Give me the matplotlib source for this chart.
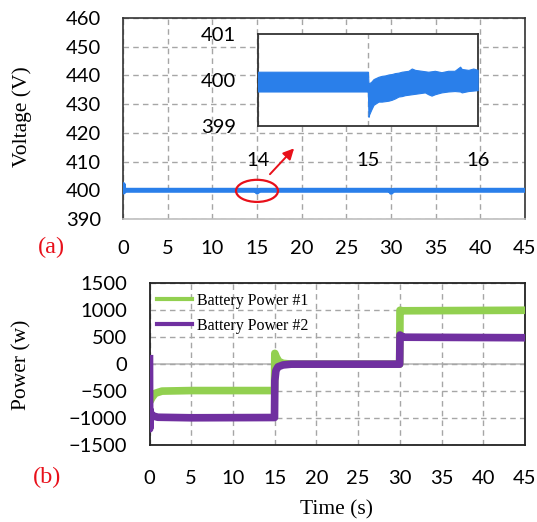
import matplotlib
matplotlib.use("Agg")
import matplotlib.pyplot as plt
from matplotlib.patches import Ellipse

# ---------------- data ----------------
volt_t = [0, 0.03, 0.07, 0.12, 0.3, 14.97, 15.02, 15.1, 15.3, 29.97, 30.02, 30.1, 30.3, 45]
volt_v = [400, 402.0, 399.4, 400.2, 400, 400, 399.4, 399.7, 400, 400, 399.3, 399.7, 400, 400]

zoom_t = [14.0, 14.998, 15.0, 15.006, 15.012, 15.03, 15.052, 15.097, 15.127, 15.158, 15.188,
          15.218, 15.248, 15.279, 15.309, 15.339, 15.37, 15.4, 15.43, 15.46, 15.49, 15.52,
          15.55, 15.58, 15.61, 15.67, 15.73, 15.79, 15.84, 15.855, 15.915, 15.96, 16.0]
zoom_hi = [400.18, 400.18, 400.18, 399.93, 399.93, 399.96, 400.02, 400.07, 400.09, 400.10, 400.12,
           400.13, 400.15, 400.16, 400.18, 400.19, 400.20, 400.25, 400.22, 400.21, 400.20, 400.19,
           400.18, 400.19, 400.20, 400.17, 400.20, 400.20, 400.29, 400.24, 400.22, 400.25, 400.22]
zoom_lo = [399.75, 399.75, 399.75, 399.20, 399.25, 399.35, 399.46, 399.53, 399.53, 399.54, 399.55,
           399.57, 399.60, 399.64, 399.65, 399.67, 399.68, 399.69, 399.70, 399.71, 399.72, 399.73,
           399.69, 399.66, 399.69, 399.73, 399.75, 399.76, 399.75, 399.73, 399.76, 399.77, 399.78]

p1_t = [0, 0.1, 0.3, 0.7, 1.5, 5, 14.98, 15.02, 15.2, 15.5, 16.0, 17.0, 29.98, 30.02, 30.3, 45]
p1_v = [-700, -680, -620, -540, -500, -490, -490, 200, 130, 50, 15, 0, 0, 1000, 990, 1000]
p2_t = [0, 0.02, 0.05, 0.15, 0.4, 1.0, 5, 14.98, 15.02, 15.15, 15.4, 16.0, 17.0, 29.98, 30.02, 30.4, 45]
p2_v = [100, -1200, -850, -920, -960, -985, -995, -990, -300, -120, -50, -15, 0, 0, 540, 500, 490]

volt_ticks = [390, 400, 410, 420, 430, 440, 450, 460]
zoom_yticks = [399, 400, 401]
zoom_xticks = [14, 15, 16]
time_ticks = [0, 5, 10, 15, 20, 25, 30, 35, 40, 45]
power_ticks = [-1500, -1000, -500, 0, 500, 1000, 1500]
legend_labels = ["Battery Power #1", "Battery Power #2"]

# ---------------- styling ----------------
W, H = 537, 522
SANS = "Lato"
SERIF = "Liberation Serif"
TICK_FS = 14.5
BLUE = "#2a7fea"
GREEN = "#92d050"
PURPLE = "#7030a0"
GRID = "#a6a6a6"
RED = "#e8101a"

fig = plt.figure(figsize=(W / 100, H / 100), dpi=100)


def fx(px):
    return px / W


def fy(py):
    return 1 - py / H


def style_axes(ax, xpad, ypad):
    ax.tick_params(axis="both", length=0, labelsize=TICK_FS, colors="#000000")
    ax.tick_params(axis="x", pad=xpad)
    ax.tick_params(axis="y", pad=ypad)
    for lab in ax.get_xticklabels() + ax.get_yticklabels():
        lab.set_fontfamily(SANS)


# ---------------- top: voltage ----------------
ax1 = fig.add_axes([fx(123), fy(219), fx(402), (219 - 18) / H])
ax1.plot(volt_t, volt_v, color=BLUE, lw=3.6, solid_joinstyle="round",
         solid_capstyle="butt", zorder=3)
ax1.set_xlim(0, 45)
ax1.set_ylim(390, 460)
ax1.set_xticks(time_ticks)
ax1.set_yticks(volt_ticks)
ax1.grid(True, color=GRID, linestyle=(0, (4, 3)), lw=1.0, zorder=0)
for s in ["top", "right", "left"]:
    ax1.spines[s].set_color("#333333")
    ax1.spines[s].set_linewidth(1.2)
ax1.spines["bottom"].set_color("#bfbfbf")
ax1.spines["bottom"].set_linewidth(1.2)
style_axes(ax1, 15, 16)

ell = Ellipse((15, 399.8), width=4.7, height=7.7, fill=False, ec=RED, lw=1.6, zorder=5)
ax1.add_patch(ell)
ax1.annotate("", xy=(19.15, 414.6), xytext=(16.45, 405.6),
             arrowprops=dict(arrowstyle="-|>", color=RED, lw=1.4,
                             mutation_scale=16, shrinkA=0, shrinkB=0), zorder=6)

# ---------------- inset ----------------
axi = fig.add_axes([fx(258), fy(126), fx(219.7), 92 / H])
axi.fill_between(zoom_t, zoom_lo, zoom_hi, color=BLUE, lw=0.8, ec=BLUE, zorder=3)
axi.set_xlim(14, 16)
axi.set_ylim(399, 401)
axi.set_xticks(zoom_xticks)
axi.set_yticks(zoom_yticks)
axi.grid(True, axis="x", color=GRID, linestyle=(0, (4, 3)), lw=1.0, zorder=0)
for s in axi.spines.values():
    s.set_color("#333333")
    s.set_linewidth(1.3)
style_axes(axi, 19, 16)

# ---------------- bottom: power ----------------
ax2 = fig.add_axes([fx(149.5), fy(445), fx(375.5), 161.7 / H])
ax2.plot(p1_t, p1_v, color=GREEN, lw=5.5, zorder=3)
ax2.plot(p2_t, p2_v, color=PURPLE, lw=5.5, zorder=4)
ax2.set_xlim(0, 45)
ax2.set_ylim(-1500, 1500)
ax2.set_xticks(time_ticks)
ax2.set_yticks(power_ticks)
ax2.grid(True, color=GRID, linestyle=(0, (4, 3)), lw=1.0, zorder=0)
ax2.axhline(0, color="#bfbfbf", lw=1.3, zorder=1)
for s in ax2.spines.values():
    s.set_color("#222222")
    s.set_linewidth(1.3)
style_axes(ax2, 18, 16)

h1 = plt.Line2D([], [], color=GREEN, lw=3)
h2 = plt.Line2D([], [], color=PURPLE, lw=3)
ax2.legend([h1, h2], legend_labels, loc="upper left", bbox_to_anchor=(-0.005, 1.0),
           frameon=False, prop={"family": SERIF, "size": 11.5},
           handlelength=2.2, handletextpad=0.3, labelspacing=0.55,
           borderaxespad=0.2)

# ---------------- labels ----------------
fig.text(fx(22), fy(117), "Voltage (V)", rotation=90, ha="center", va="center",
         family=SERIF, fontsize=15.5)
fig.text(fx(22), fy(365), "Power (w)", rotation=90, ha="center", va="center",
         family=SERIF, fontsize=15.5)
fig.text(fx(337), fy(510), "Time (s)", ha="center", va="center",
         family=SERIF, fontsize=15.5)
fig.text(fx(51), fy(247), "(a)", ha="center", va="center", color=RED,
         family=SERIF, fontsize=17.5)
fig.text(fx(47), fy(477), "(b)", ha="center", va="center", color=RED,
         family=SERIF, fontsize=17.5)

fig.savefig("out.png", dpi=100, facecolor="white")
